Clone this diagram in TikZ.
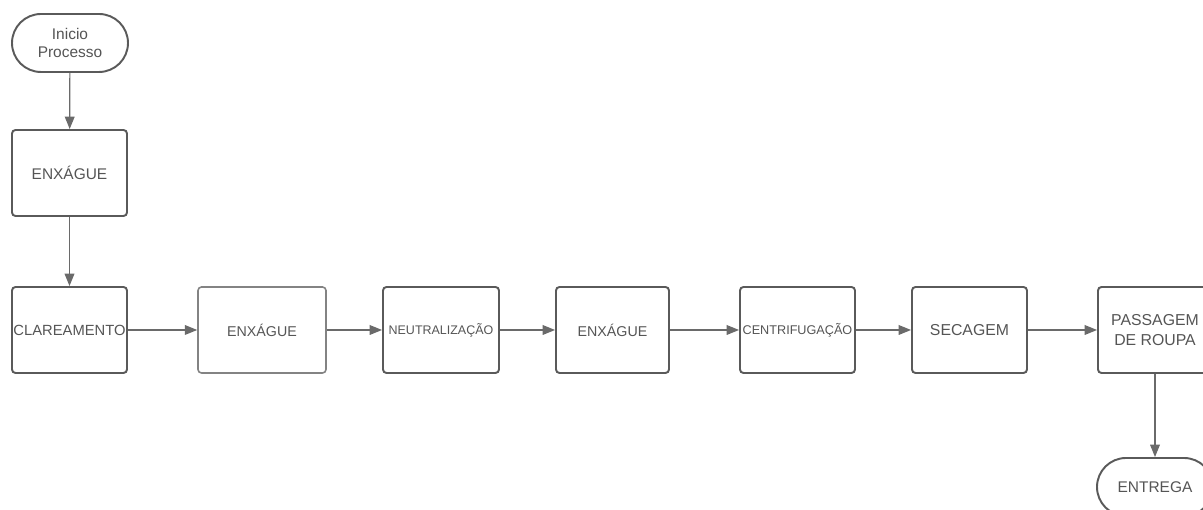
\documentclass[tikz,border=0pt]{standalone}
\usepackage{fontspec}
\setmainfont{Liberation Sans}
\usetikzlibrary{arrows.meta}
\definecolor{boxgray}{HTML}{5A5A5A}
\definecolor{txtgray}{HTML}{555555}
\definecolor{arrgray}{HTML}{6A6A6A}
\tikzset{
  etapa/.style={draw=boxgray, line width=1.1pt, rounded corners=2pt,
    minimum width=2.3cm, minimum height=1.72cm, inner sep=0pt,
    text=txtgray, align=center, font=\fontsize{8.8}{10.5}\selectfont},
  terminal/.style={draw=boxgray, line width=1.1pt, rounded corners=0.58cm,
    minimum width=2.32cm, minimum height=1.16cm, inner sep=0pt,
    text=txtgray, align=center, font=\fontsize{8.8}{10.5}\selectfont},
  fluxo/.style={draw=arrgray, line width=0.7pt,
    -{Triangle[length=7pt, width=5.5pt]}},
}
\begin{document}
\begin{tikzpicture}
    \clip (0,0) rectangle (24.06,10.2);
    \fill [white] (0,0) rectangle (24.06,10.2);

    \node [terminal] (inicio) at (1.40,9.34) {Inicio\\Processo};
    \node [etapa] (enxague1) at (1.39,6.74) {ENXÁGUE};
    \node [etapa, font=\fontsize{8.4}{10}\selectfont] (clareamento) at (1.39,3.60) {CLAREAMENTO};
    \node [etapa, minimum width=2.56cm, draw=boxgray!75, line width=0.9pt,
      font=\fontsize{8.1}{10}\selectfont] (enxague2) at (5.24,3.60) {ENXÁGUE};
    \node [etapa, minimum width=2.32cm, font=\fontsize{7.1}{9}\selectfont] (neutralizacao) at (8.82,3.60) {NEUTRALIZAÇÃO};
    \node [etapa, minimum width=2.26cm, font=\fontsize{8.1}{10}\selectfont] (enxague3) at (12.25,3.60) {ENXÁGUE};
    \node [etapa, font=\fontsize{7.2}{9}\selectfont] (centrifugacao) at (15.95,3.60) {CENTRIFUGAÇÃO};
    \node [etapa, font=\fontsize{9}{11}\selectfont] (secagem) at (19.39,3.60) {SECAGEM};
    \node [etapa, minimum width=2.28cm, font=\fontsize{9}{11.5}\selectfont] (passagem) at (23.10,3.60) {PASSAGEM\\DE ROUPA};
    \node [terminal] (entrega) at (23.10,0.46) {ENTREGA};

    \draw [fluxo] (inicio) -- (enxague1);
    \draw [fluxo] (enxague1) -- (clareamento);
    \draw [fluxo] (clareamento) -- (enxague2);
    \draw [fluxo] (enxague2) -- (neutralizacao);
    \draw [fluxo] (neutralizacao) -- (enxague3);
    \draw [fluxo] (enxague3) -- (centrifugacao);
    \draw [fluxo] (centrifugacao) -- (secagem);
    \draw [fluxo] (secagem) -- (passagem);
    \draw [fluxo] (passagem) -- (entrega);
  \end{tikzpicture}
\end{document}
